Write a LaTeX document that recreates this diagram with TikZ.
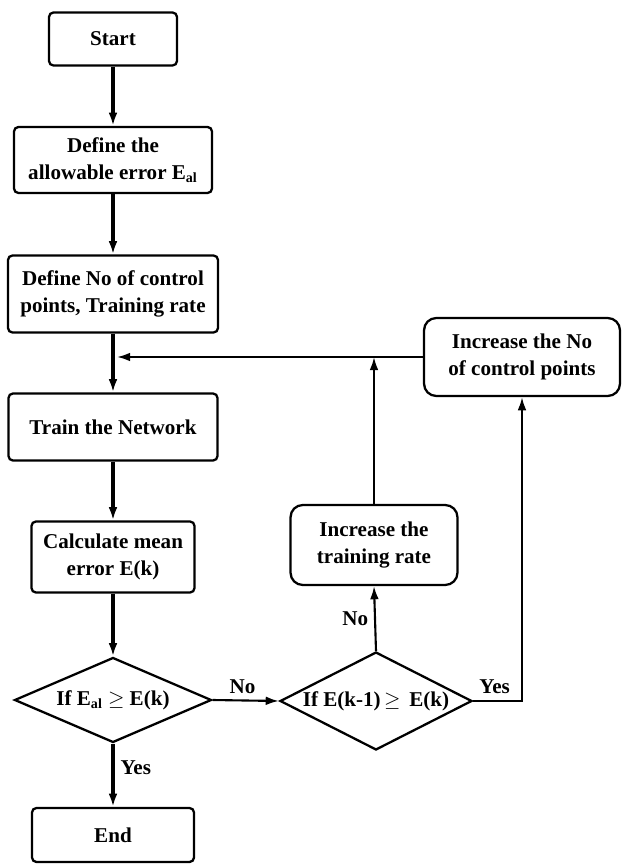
\documentclass[tikz,border=0pt]{standalone}
\usepackage{fontspec}
\setmainfont{Liberation Serif}
\usepackage{tikz}
\usetikzlibrary{shapes.geometric}
\usetikzlibrary{arrows.meta}

\tikzset{
  box/.style={draw, line width=1.3pt, rounded corners=2.5pt, align=center, inner sep=0pt},
  softbox/.style={box, rounded corners=7pt},
  test/.style={draw, line width=1.3pt, diamond, inner sep=0pt},
  flow/.style={line width=1.9pt, -{Latex[length=7.5pt,width=5pt]}},
  back/.style={line width=1.2pt, -{Latex[length=7.5pt,width=5pt]}},
}

\begin{document}
\begin{tikzpicture}[x=0.02cm, y=-0.02cm, font=\fontsize{12}{15.5}\selectfont\bfseries]
            \useasboundingbox (0,0) rectangle (622,864);

            % main column
            \node[box, minimum width=2.56cm, minimum height=1.06cm] (start) at (113,39) {Start};
            \node[box, minimum width=3.96cm, minimum height=1.32cm] (defE) at (113,160) {Define the\\allowable error E\textsubscript{al}};
            \node[box, minimum width=4.2cm, minimum height=1.54cm] (defN) at (113,294) {Define No of control\\points, Training rate};
            \node[box, minimum width=4.18cm, minimum height=1.34cm] (train) at (113,427) {Train the Network};
            \node[box, minimum width=3.26cm, minimum height=1.42cm] (calc) at (113,557) {Calculate mean\\error E(k)};
            \node[test, minimum width=3.94cm, minimum height=1.7cm] (test1) at (113,700) {};
            \node (test1txt) at (test1) {If E\textsubscript{al} $\geq$ E(k)};
            \node[box, minimum width=3.24cm, minimum height=1.08cm] (end) at (113,835) {End};

            % right side
            \node[test, minimum width=3.84cm, minimum height=1.96cm] (test2) at (376,701) {};
            \node (test2txt) at (test2) {If E(k-1)\,$\geq$ \,E(k)};
            \node[softbox, minimum width=3.34cm, minimum height=1.6cm] (incRate) at (374,545) {Increase the\\training rate};
            \node[softbox, minimum width=3.92cm, minimum height=1.56cm] (incNo) at (522,357) {Increase the No\\of control points};
            \coordinate (join) at (117,357);

            \draw[flow] (start) -- (defE);
            \draw[flow] (defE) -- (defN);
            \draw[flow] (defN) -- (train);
            \draw[flow] (train) -- (calc);
            \draw[flow] (calc) -- (test1);
            \draw[flow] (test1) -- node[right, pos=0.38] (yes1) {Yes} (end);
            \draw[back] (test1.east) -- node[above, pos=0.45] (no1) {No} (test2.west);
            \draw[back] (test2.north) -- node[left, pos=0.5] (no2) {No} (incRate.south);
            \draw[back] (test2.east) -| node[above, pos=0.22] (yes2) {Yes} (incNo.south);
            \draw[back] (incRate.north) -- (incRate.north |- join);
            \draw[back] (incNo.west) -- (join);
        \end{tikzpicture}
\end{document}
